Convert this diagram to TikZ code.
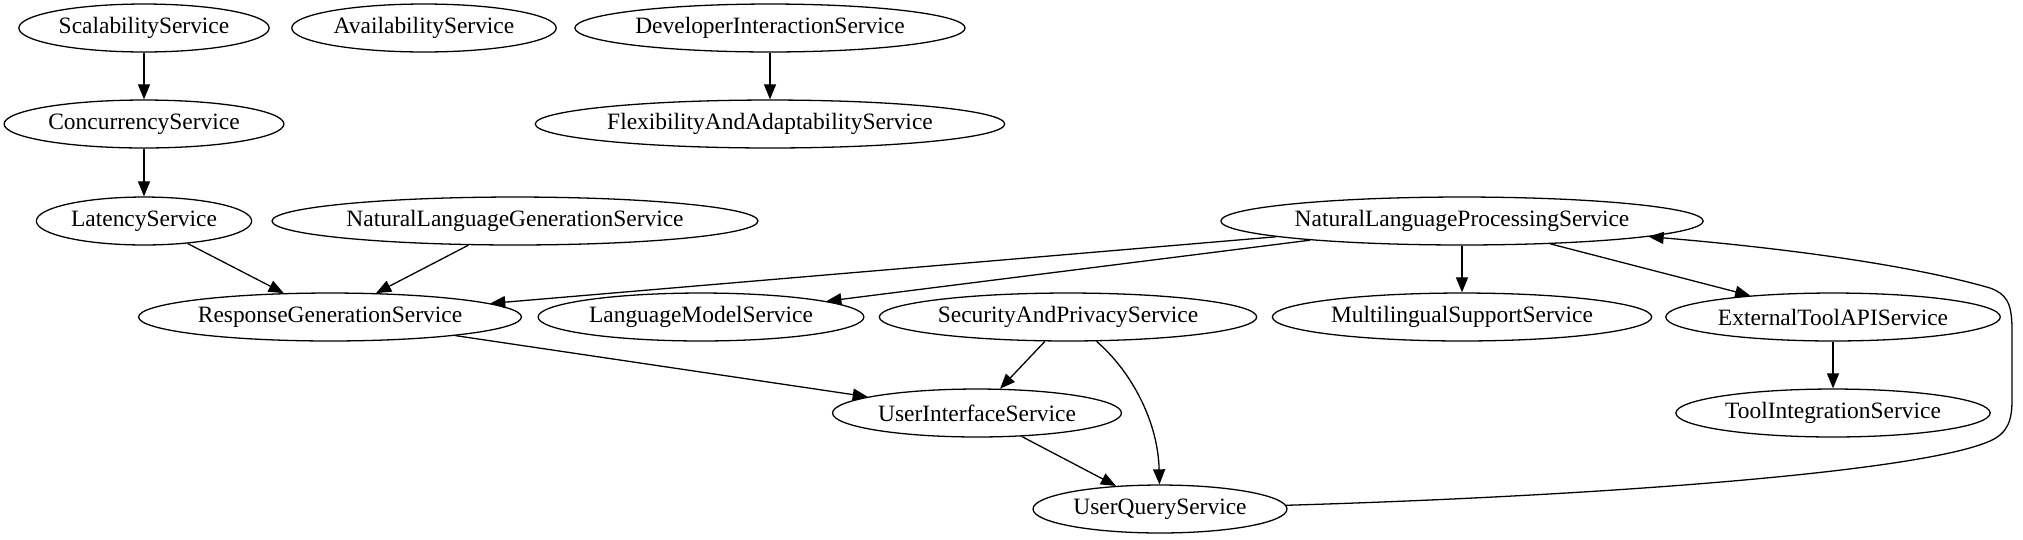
\documentclass[tikz,border=0pt]{standalone}
\usepackage{fontspec}
\setmainfont{Liberation Serif}
\usepackage{tikz}
\usetikzlibrary{arrows.meta,shapes.geometric}

\begin{document}
\begin{tikzpicture}[x=0.465pt,y=-0.465pt]
	
	\tikzset{vertex/.style = {shape=ellipse,draw,line width=0.6pt,inner xsep=1.5pt,inner ysep=0pt,minimum height=22.3pt,font=\fontsize{10.9}{12}\selectfont}}
	\tikzset{edge/.style = {->,> = {Triangle[length=7pt,width=5.6pt]},line width=0.6pt}}
	
	\useasboundingbox (0,0) rectangle (2023,539);
	
	\node[vertex] (scal) at  (144,28) {ScalabilityService};
	\node[vertex] (avail) at (424,28) {AvailabilityService};
	\node[vertex] (dev) at   (770,28) {DeveloperInteractionService};
	\node[vertex] (conc) at  (144,124) {ConcurrencyService};
	\node[vertex] (flex) at  (770,124) {FlexibilityAndAdaptabilityService};
	\node[vertex] (lat) at   (144,221) {LatencyService};
	\node[vertex] (nlg) at   (515,221) {NaturalLanguageGenerationService};
	\node[vertex] (nlp) at   (1462,221) {NaturalLanguageProcessingService};
	\node[vertex] (resp) at  (330,317) {ResponseGenerationService};
	\node[vertex] (lm) at    (701,317) {LanguageModelService};
	\node[vertex] (sec) at   (1068,317) {SecurityAndPrivacyService};
	\node[vertex] (multi) at (1462,317) {MultilingualSupportService};
	\node[vertex] (ext) at   (1833,317) {ExternalToolAPIService};
	\node[vertex] (ui) at    (977,413) {UserInterfaceService};
	\node[vertex] (tool) at  (1833,413) {ToolIntegrationService};
	\node[vertex] (uq) at    (1160,509) {UserQueryService};
	
	\draw[edge] (scal) to (conc);
	\draw[edge] (dev) to (flex);
	\draw[edge] (conc) to (lat);
	\draw[edge] (lat) to (resp);
	\draw[edge] (nlg) to (resp);
	\draw[edge] (nlp) to (resp);
	\draw[edge] (nlp) to (lm);
	\draw[edge] (nlp) to (multi);
	\draw[edge] (nlp) to (ext);
	\draw[edge] (ext) to (tool);
	\draw[edge] (resp) to (ui);
	\draw[edge] (sec) to (ui);
	\draw[edge] (sec) .. controls (1130,370) and (1158,420) .. (uq);
	\draw[edge] (ui) to (uq);
	\draw[edge] (uq) .. controls (1600,496) and (1920,472) .. (1990,441)
		.. controls (2008,433) and (2012,420) .. (2012,400) -- (2012,330)
		.. controls (2012,302) and (2006,294) .. (1990,288)
		.. controls (1900,262) and (1760,246) .. (nlp);
	\end{tikzpicture}
\end{document}
